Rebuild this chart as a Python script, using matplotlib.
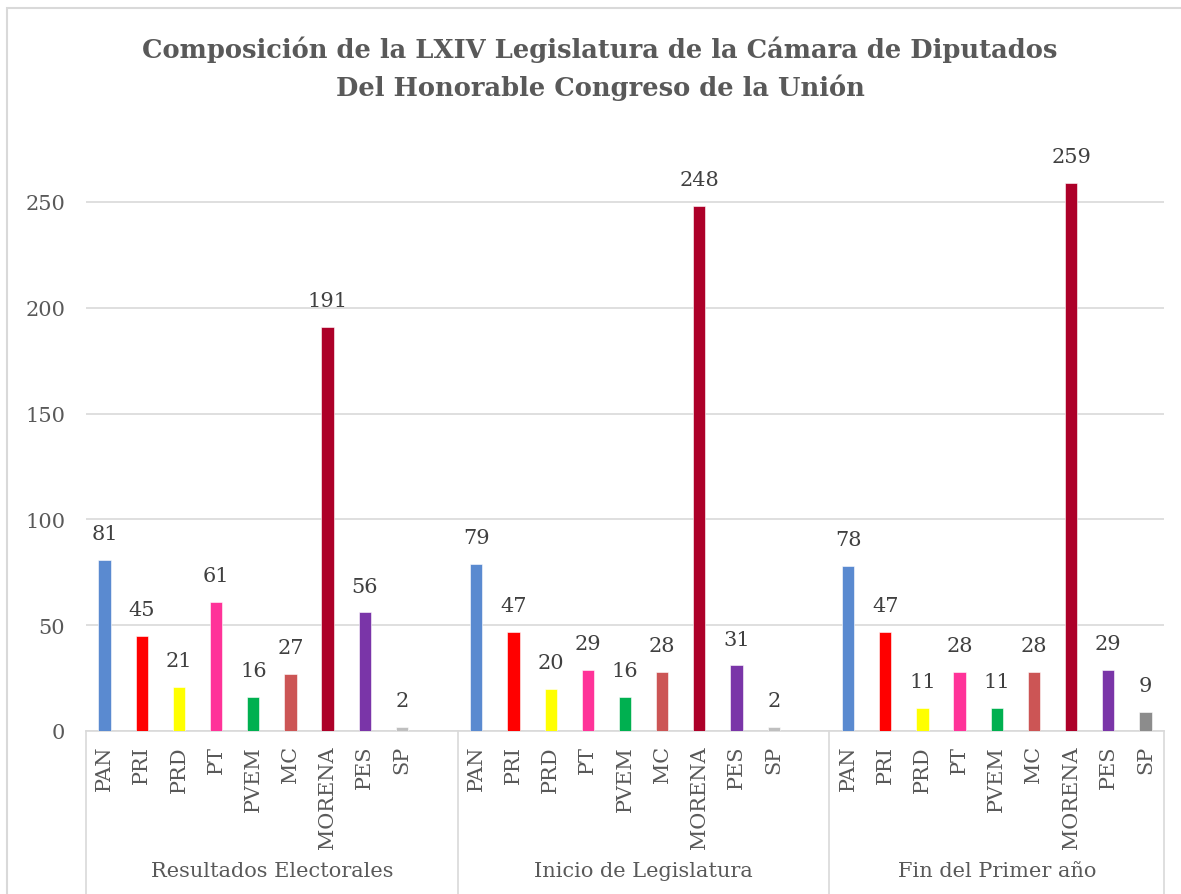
import matplotlib
matplotlib.use('Agg')
import matplotlib.pyplot as plt
from matplotlib.patches import Rectangle
import matplotlib.transforms as mtransforms

# data
groups = ['Resultados Electorales', 'Inicio de Legislatura', 'Fin del Primer año']
parties = ['PAN', 'PRI', 'PRD', 'PT', 'PVEM', 'MC', 'MORENA', 'PES', 'SP']
resultados = [81, 45, 21, 61, 16, 27, 191, 56, 2]
inicio = [79, 47, 20, 29, 16, 28, 248, 31, 2]
fin = [78, 47, 11, 28, 11, 28, 259, 29, 9]
colors = ['#5a8ad0', '#ff0000', '#ffff00', '#ff3399', '#00b050',
          '#cc5555', '#ad0029', '#7a35a8', '#8c8c8c']

series = [resultados, inicio, fin]
FONT = 'DejaVu Serif'
GRAY = '#595959'
LINE = '#d9d9d9'

fig = plt.figure(figsize=(11.81, 8.95), dpi=100)
ax = fig.add_axes([86 / 1181, (895 - 732) / 895, (1164 - 86) / 1181, 582 / 895])

# each group takes 10 slots (last one empty), final group has 9
xs_all, vals_all, cols_all, labels_all = [], [], [], []
for g, vals in enumerate(series):
    for i, v in enumerate(vals):
        x = g * 10 + i
        xs_all.append(x)
        vals_all.append(v)
        c = colors[i]
        if parties[i] == 'SP' and v < 5:
            c = '#bfbfbf'
        cols_all.append(c)
        labels_all.append(parties[i])

ax.bar(xs_all, vals_all, width=0.33, color=cols_all, edgecolor='white',
       linewidth=0.4, zorder=3)
for x, v in zip(xs_all, vals_all):
    ax.annotate(str(v), (x, v), xytext=(0, 19), textcoords='offset points',
                ha='center', va='center', fontsize=15, family=FONT, color='#404040')

ax.set_xlim(-0.5, 28.5)
ax.set_ylim(0, 275)
ax.set_yticks(range(0, 251, 50))
ax.grid(axis='y', color=LINE, linewidth=1.2, zorder=0)
ax.set_xticks(xs_all)
ax.set_xticklabels(labels_all, rotation=90, fontsize=15, family=FONT, color=GRAY)
ax.tick_params(axis='x', length=0, pad=10)
ax.tick_params(axis='y', length=0, pad=15, labelsize=15, labelcolor=GRAY)
for lab in ax.get_yticklabels():
    lab.set_family(FONT)
for s in ['top', 'right', 'left']:
    ax.spines[s].set_visible(False)
ax.spines['bottom'].set_color(LINE)
ax.spines['bottom'].set_linewidth(1.2)

# multi-level category separators and group names
trans = mtransforms.blended_transform_factory(ax.transData, ax.transAxes)
for xb in [-0.5, 9.5, 19.5, 28.5]:
    ax.plot([xb, xb], [0, -0.4], transform=trans, color=LINE, lw=1.2, clip_on=False)
for g, name in enumerate(groups):
    xc = (-0.5 + 9.5) / 2 + g * 10 if g < 2 else (19.5 + 28.5) / 2
    ax.text(xc, -140 / 582, name, transform=trans, ha='center', va='center',
            fontsize=15, family=FONT, color=GRAY)

fig.text(0.508, 1 - 50 / 895, 'Composición de la LXIV Legislatura de la Cámara de Diputados',
         ha='center', va='center', fontsize=18.5, fontweight='bold', family=FONT, color=GRAY)
fig.text(0.508, 1 - 88 / 895, 'Del Honorable Congreso de la Unión',
         ha='center', va='center', fontsize=18.5, fontweight='bold', family=FONT, color=GRAY)

fig.patches.append(Rectangle((7 / 1181, -0.1), 1.2, 1 - 9 / 895 + 0.1,
                             transform=fig.transFigure, fill=False,
                             edgecolor=LINE, linewidth=1.5))

fig.savefig('out.png', dpi=100)
